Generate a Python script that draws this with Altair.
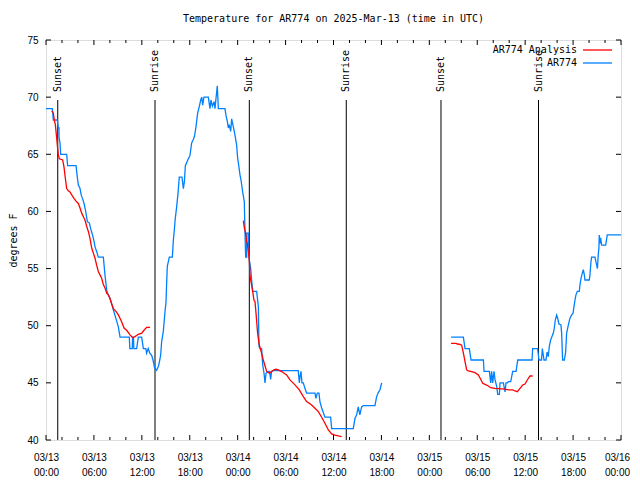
import altair as alt
import pandas as pd

FONT = "DejaVu Sans Mono"
FS = 10

TITLE = "Temperature for AR774 on 2025-Mar-13 (time in UTC)"
SERIES = ["AR774 Analysis", "AR774"]
COLORS = ["#ff0000", "#0080ff"]

# time axis: hours since 2025-03-13 00:00 UTC
# ---- AR774 observations (blue) ----
obs1_t = [0.0, 0.79, 0.92, 1.42, 1.54, 1.63, 1.63, 1.75, 1.84, 2.59, 2.71, 3.76, 3.92, 4.05, 4.26,
          4.42, 4.59, 4.76, 4.97, 5.18, 5.43, 5.59, 5.84, 6.01, 6.14, 6.34, 6.55, 7.18, 7.39, 7.6,
          7.8, 8.0, 8.2, 8.43, 8.64, 8.85, 9.06, 9.27, 10.43, 10.5, 10.8, 10.85, 10.95, 11.0, 11.35,
          11.56, 11.98, 12.19, 12.5, 12.6, 12.8, 13.0, 13.23, 13.4, 13.6, 13.85, 14.1, 14.25, 14.36,
          14.48, 14.69, 14.9, 15.03, 15.1, 15.19, 15.44, 15.82, 15.94, 16.07, 16.19, 16.36, 16.53,
          16.69, 17.03, 17.2, 17.33, 17.45, 17.82, 18.03, 18.24, 18.45, 18.6, 18.78, 18.99, 19.2,
          19.37, 19.5, 19.62, 19.78, 20.33, 20.53, 20.66, 20.83, 21.04, 21.16, 21.29, 21.45, 21.58,
          22.41, 22.54, 22.7, 22.83, 22.95, 23.12, 23.25, 23.46, 23.66, 23.87, 24.0, 24.12, 24.29,
          24.42, 24.62, 24.83, 24.92, 25.0, 25.13, 25.13, 25.34, 25.34, 25.46, 25.63, 25.75, 25.88,
          26.38, 26.59, 26.67, 26.8, 27.0, 27.13, 27.3, 27.42, 27.55, 27.84, 28.0, 28.13, 28.25,
          28.46, 31.59, 31.72, 31.82, 31.93, 32.05, 32.22, 32.43, 32.64, 33.68, 33.8, 33.97, 34.18,
          34.3, 34.52, 34.93, 35.64, 35.77, 38.48, 38.69, 38.9, 39.1, 39.3, 39.52, 39.73, 41.19,
          41.4, 41.61, 41.82, 42.03]
obs1_v = [69, 69, 68, 68, 67.3, 67.3, 66.5, 66, 65, 65, 64, 64, 63, 62.3, 62,
          61.4, 61.1, 60.7, 60, 59.1, 59, 58.5, 57.9, 57.4, 56.9, 56.5, 56, 56, 54.4, 53.1,
          52.7, 52.4, 52, 51.4, 50.9, 50.4, 49.9, 49, 49, 48, 48, 49, 49, 48, 48,
          49, 49, 48, 48, 47.6, 48, 47.6, 47.4, 47, 46.3, 46.1, 46.5, 47, 47.44,
          48.6, 49.5, 51.2, 52.1, 53.6, 55.2, 56, 56, 57.4, 58.4, 59.4, 60.4, 61.6,
          63, 63, 62, 62.6, 64, 64.6, 64.9, 66, 66.3, 66.6, 67.4, 68.6, 69.2,
          69.75, 70, 69.3, 70, 70, 69, 69.75, 69.2, 69.6, 69, 69.9, 71, 69,
          69, 68.4, 67.9, 67.3, 67.6, 67, 68.1, 67.4, 66.7, 65.8, 64.65, 64.07, 63.2,
          62.75, 61.73, 60.86, 58.1, 56, 56, 58.1, 58.1, 57.2, 55.75, 55, 54, 53,
          53, 51.67, 48.2, 48, 48, 46.6, 45.84, 45, 45.84, 46, 46, 45.3, 46,
          46.07, 46.07, 45, 45.6, 46, 45, 45, 44.5, 44.1, 44.1, 43.65, 44.1, 44.1,
          43.36, 42.8, 42, 42, 41, 41, 41.9, 42.2, 42.9, 42.2, 42.9, 43, 43,
          43.8, 44.15, 44.4, 45]
obs2_t = [50.72, 52.26, 52.47, 53.01, 53.22, 54.77, 54.85, 55.52, 55.68, 55.8, 55.93, 56.1, 56.22,
          56.43, 56.56, 56.77, 56.85, 57.27, 57.48, 57.6, 57.77, 57.9, 58.19, 58.44, 58.86, 59.07,
          60.86, 60.94, 61.56, 61.73, 62.05, 62.15, 62.36, 62.6, 62.75, 62.9, 63.02, 63.19, 63.32,
          63.52, 63.65, 63.77, 63.94, 64.07, 64.23, 64.48, 64.57, 64.69, 64.9, 65.07, 65.19, 65.4,
          65.61, 65.82, 66.0, 66.11, 66.24, 66.36, 66.53, 66.78, 66.86, 66.99, 67.16, 67.28, 67.41,
          67.49, 68.03, 68.11, 68.24, 68.32, 68.74, 68.95, 69.05, 69.15, 69.24, 69.28, 69.37, 69.45,
          69.57, 70.08, 70.28, 72.0]
obs2_v = [49, 49, 48, 48, 47, 47, 46, 46, 45, 46, 45, 46, 45.3,
          44.7, 44, 44, 45, 45, 44.2, 45, 45, 45.1, 45.1, 46, 46, 47,
          47, 48, 48, 47, 47, 48, 47, 47, 47.7, 47.3, 48.2, 48.75, 49,
          49.33, 49.8, 50.5, 50.94, 50.65, 50.15, 50.06, 49.33, 47, 47, 47.7, 49.33, 50.06,
          50.65, 50.94, 51.1, 51.67, 52.25, 52.7, 53, 53, 53.56, 54.15, 54.6, 54.9, 54.44,
          54, 54, 54.44, 55.6, 56, 56, 55.3, 55.0, 56.2, 56.9, 57.94, 57.2, 57.7,
          57.06, 57.06, 57.94, 57.94]

# ---- AR774 Analysis (red) ----
ana1_t = [0.71, 0.92, 1.04, 1.17, 1.34, 1.46, 1.54, 1.67, 2.09, 2.25, 2.42, 2.59, 2.8, 3.0, 3.26,
          3.5, 3.76, 4.05, 4.26, 4.47, 4.67, 4.88, 5.09, 5.3, 5.51, 5.72, 5.93, 6.14, 6.34, 6.55,
          6.76, 6.97, 7.18, 7.39, 7.6, 7.8, 8.0, 8.2, 8.43, 8.76, 9.06, 9.47, 9.77, 10.1, 10.52,
          10.85, 11.14, 11.56, 11.98, 12.27, 12.6, 13.02]
ana1_v = [68.8, 68.6, 68.0, 67.6, 66.4, 65.5, 65.0, 64.6, 64.5, 63.9, 62.9, 62.0, 61.8, 61.7, 61.4,
          61.15, 60.9, 60.7, 60.3, 59.85, 59.55, 59.25, 58.7, 58.25, 57.65, 56.8, 56.35, 55.9, 55.3, 54.75,
          54.45, 54.15, 53.6, 53.3, 52.85, 52.7, 52.4, 51.95, 51.5, 51.25, 50.95, 50.35, 49.8, 49.6, 49.2,
          48.95, 49.05, 49.25, 49.35, 49.6, 49.85, 49.85]
ana2_t = [24.71, 24.85, 25.0, 25.1, 25.21, 25.46, 25.54, 25.63, 25.88, 26.04, 26.17, 26.3, 26.5,
          26.67, 26.88, 27.0, 27.21, 27.42, 27.63, 27.96, 28.25, 28.55, 28.8, 29.09, 29.51, 30.13,
          30.55, 31.18, 31.72, 32.22, 32.64, 33.26, 33.68, 34.1, 34.52, 34.93, 35.35, 35.77, 36.18,
          37.02]
ana2_v = [59.2, 58.5, 58.08, 57.4, 57.2, 55.75, 54.4, 54, 53, 52.25, 52.1, 51.08, 49.33,
          48.46, 47.88, 47.58, 47.0, 46.5, 46.0, 45.84, 45.99, 46.13, 46.19, 46.13, 45.99, 45.7,
          45.26, 44.82, 44.38, 43.8, 43.36, 43.07, 42.78, 42.48, 41.99, 41.46, 40.88, 40.53, 40.42,
          40.3]
ana3_t = [50.72, 51.34, 51.51, 51.84, 52.05, 52.18, 52.35, 52.51, 52.68, 52.89, 53.3, 53.72, 54.14,
          54.43, 54.68, 54.97, 55.39, 55.68, 56.23, 57.48, 57.9, 58.44, 58.73, 59.02, 59.36, 59.69,
          59.98, 60.27, 60.6, 60.94]
ana3_v = [48.46, 48.46, 48.4, 48.37, 48.3, 47.88, 47.29, 46.7, 46.13, 46.04, 45.98, 45.89, 45.69,
          45.31, 44.96, 44.87, 44.73, 44.58, 44.52, 44.46, 44.38, 44.38, 44.29, 44.23, 44.52, 44.81,
          44.9, 45.25, 45.6, 45.6]

sunset_t = [1.47, 25.46, 49.46]
sunrise_t = [13.65, 37.6, 61.67]

x_major = list(range(0, 73, 6))
x_minor = [h for h in range(0, 73, 2) if h % 6]
y_ticks = list(range(40, 76, 5))

# ---- tables ----
rows = []
segs = [
    (SERIES[1], "o1", obs1_t, obs1_v),
    (SERIES[1], "o2", obs2_t, obs2_v),
    (SERIES[0], "a1", ana1_t, ana1_v),
    (SERIES[0], "a2", ana2_t, ana2_v),
    (SERIES[0], "a3", ana3_t, ana3_v),
]
for name, seg, ts, vs in segs:
    for i, (t, v) in enumerate(zip(ts, vs)):
        rows.append({"series": name, "seg": seg, "i": i, "t": t, "v": v})
df = pd.DataFrame(rows)

sun_df = pd.DataFrame(
    {"t": sunset_t + sunrise_t,
     "label": ["Sunset"] * len(sunset_t) + ["Sunrise"] * len(sunrise_t)})
xmaj_df = pd.DataFrame({"t": x_major})
xmin_df = pd.DataFrame({"t": x_minor})
ytk_df = pd.DataFrame({"v": y_ticks})
title_df = pd.DataFrame({"title": [TITLE]})

W, H = 575, 400
x_scale = alt.Scale(domain=[0, 72], nice=False, zero=False)
y_scale = alt.Scale(domain=[40, 75], nice=False, zero=False)

x_axis = alt.Axis(
    values=x_major, title=None, ticks=False, domain=False, grid=False,
    labelExpr="['03/' + format(13 + floor(datum.value / 24), '02d'), format(datum.value % 24, '02d') + ':00']",
    labelFlush=False, labelOverlap=False, labelPadding=12, labelLineHeight=15,
    labelBaseline="top", labelAngle=0,
    labelOffset=alt.condition("datum.value == 72", alt.value(-4), alt.value(0)))
y_axis = alt.Axis(
    values=y_ticks, ticks=False, domain=False, grid=False, labelFlush=False,
    labelOverlap=False, labelPadding=8, title="degrees F",
    titleX=-33, titleY=200, titleAngle=270, titleAlign="center", titleBaseline="middle",
    titleFont=FONT, titleFontSize=FS, titleFontWeight="normal", titleColor="black")

X = alt.X("t:Q", scale=x_scale, axis=x_axis)
Y = alt.Y("v:Q", scale=y_scale, axis=y_axis)

sun_rules = alt.Chart(sun_df).mark_rule(color="black", strokeWidth=1).encode(
    x=X, y=alt.value(60), y2=alt.value(H))
sun_text = alt.Chart(sun_df).mark_text(
    angle=270, align="left", baseline="middle", font=FONT, fontSize=FS, color="black"
).encode(x=X, y=alt.value(52), text="label:N")

lines = alt.Chart(df).mark_line(strokeWidth=1.3, clip=True).encode(
    x=X, y=Y,
    color=alt.Color("series:N", scale=alt.Scale(domain=SERIES, range=COLORS), legend=None),
    detail="seg:N",
    order="i:Q")

xt_bot = alt.Chart(xmaj_df).mark_rule(color="black").encode(x=X, y=alt.value(H), y2=alt.value(H - 5))
xt_top = alt.Chart(xmaj_df).mark_rule(color="black").encode(x=X, y=alt.value(0), y2=alt.value(5))
xm_bot = alt.Chart(xmin_df).mark_rule(color="black").encode(x=X, y=alt.value(H), y2=alt.value(H - 3))
xm_top = alt.Chart(xmin_df).mark_rule(color="black").encode(x=X, y=alt.value(0), y2=alt.value(3))
yt_l = alt.Chart(ytk_df).mark_rule(color="black").encode(y=Y, x=alt.value(0), x2=alt.value(5))
yt_r = alt.Chart(ytk_df).mark_rule(color="black").encode(y=Y, x=alt.value(W), x2=alt.value(W - 5))

title_mark = alt.Chart(title_df).mark_text(
    align="center", baseline="middle", font=FONT, fontSize=FS, color="black"
).encode(text="title:N", x=alt.value(W / 2), y=alt.value(-21))


def key_entry(name, color, ypix):
    d = pd.DataFrame({"label": [name]})
    txt = alt.Chart(d).mark_text(align="right", baseline="middle", font=FONT, fontSize=FS,
                                 color="black").encode(
        text="label:N", x=alt.value(531), y=alt.value(ypix))
    ln = alt.Chart(d).mark_rule(color=color, strokeWidth=1.3).encode(
        x=alt.value(537), x2=alt.value(566), y=alt.value(ypix))
    return txt + ln


key = key_entry(SERIES[0], COLORS[0], 10) + key_entry(SERIES[1], COLORS[1], 23)

chart = alt.layer(
    sun_rules, sun_text, lines, xt_bot, xt_top, xm_bot, xm_top, yt_l, yt_r, key, title_mark
).properties(
    width=W, height=H,
    autosize=alt.AutoSizeParams(type="none"),
    padding={"left": 38, "top": 32, "right": 11, "bottom": 40},
).configure_view(stroke="black", strokeWidth=1).configure_axis(
    labelFont=FONT, labelFontSize=FS, labelColor="black"
).configure(background="white")

chart.save("out.html", embed_options={"renderer": "svg", "actions": False})
